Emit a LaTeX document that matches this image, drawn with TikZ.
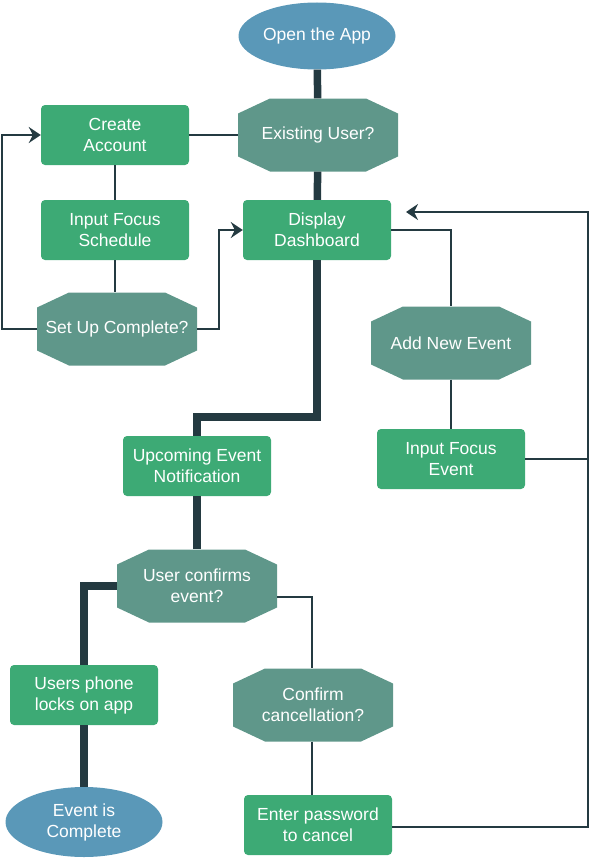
\documentclass[tikz,border=0pt]{standalone}
\usepackage{fontspec}
\setmainfont{Liberation Sans}
\usepackage{tikz}
\usetikzlibrary{shapes,arrows.meta}
\definecolor{boxgreen}{HTML}{3DAA75}
\definecolor{octgreen}{HTML}{5F978A}
\definecolor{ovalblue}{HTML}{5A98B8}
\definecolor{wire}{HTML}{243A41}
\tikzstyle{block} = [rectangle, rounded corners=4pt, fill=boxgreen, text=white, align=center, minimum width=148pt, minimum height=60pt, inner sep=2pt]
\tikzstyle{decision} = [rectangle, text=white, align=center, minimum width=160pt, minimum height=73pt, inner sep=0pt,
  path picture={\fill [octgreen] ([xshift=32pt]path picture bounding box.north west) -- ([xshift=-32pt]path picture bounding box.north east)
    -- ([yshift=-15pt]path picture bounding box.north east) -- ([yshift=15pt]path picture bounding box.south east)
    -- ([xshift=-32pt]path picture bounding box.south east) -- ([xshift=32pt]path picture bounding box.south west)
    -- ([yshift=15pt]path picture bounding box.south west) -- ([yshift=-15pt]path picture bounding box.north west) -- cycle;}]
\tikzstyle{terminal} = [ellipse, fill=ovalblue, text=white, align=center, minimum width=157pt, minimum height=67pt, inner sep=0pt]
\tikzstyle{line} = [draw=wire, line width=2pt]
\tikzstyle{trunk} = [draw=wire, line width=7.5pt]
\tikzstyle{loopline} = [line, -{Stealth[length=12pt, width=16pt, inset=4pt]}]

\begin{document}
\begin{tikzpicture}[x=1pt, y=-1pt, font=\fontsize{17.5}{21}\selectfont]
      \useasboundingbox (0,0) rectangle (591,859);

      % trunk down the middle
      \node [terminal] (app) at (317,36) {Open the App};
      \node [decision] (exist) at (318,135) {Existing User?};
      \node [block] (create) at (115,135) {Create\\Account};
      \node [block] (dash) at (317,230) {Display\\Dashboard};
      \node [block] (sched) at (115,230) {Input Focus\\Schedule};
      \node [decision] (setup) at (117,329) {Set Up Complete?};
      \node [decision] (addev) at (451,343) {Add New Event};
      \node [block] (focusev) at (451,459) {Input Focus\\Event};
      \node [block] (upcoming) at (197,466) {Upcoming Event\\Notification};
      \node [decision] (confirm) at (197,586) {User confirms\\event?};
      \node [block] (locks) at (84,695) {Users phone\\locks on app};
      \node [terminal, minimum height=70pt] (complete) at (84,822) {Event is\\Complete};
      \node [decision] (cancel) at (313,705) {Confirm\\cancellation?};
      \node [block] (password) at (318,825) {Enter password\\to cancel};

      \coordinate (back) at (406,212);
      \coordinate (rail) at (588,212);

      \path [trunk] (app) -- (exist);
      \path [trunk] (exist) -- (dash);
      \path [trunk] (dash.south) -- ++(0,157) -| (upcoming.north);
      \path [trunk] (upcoming) -- (confirm);
      \path [trunk] (confirm.west) -| (locks.north);
      \path [trunk] (locks) -- (complete);

      \path [line] (exist.west) -- (create.east);
      \path [line] (create) -- (sched);
      \path [line] (sched.south) -- (sched.south |- setup.north);
      \path [loopline] (setup.west) -- ++(-35,0) |- (create.west);
      \path [loopline] (setup.east) -- ++(22,0) |- (dash.west);
      \path [line] (dash.east) -| (addev.north);
      \path [line] (addev) -- (focusev);
      \path [line] (focusev.east) -- (focusev.east -| rail);
      \path [line] ([yshift=-11pt]confirm.east) -| ([xshift=-1pt]cancel.north);
      \path [line] ([xshift=-1pt]cancel.south) -- ([xshift=-1pt]cancel.south |- password.north);
      \path [loopline] ([yshift=-2pt]password.east) -| (rail) -- (back);
    \end{tikzpicture}
\end{document}
